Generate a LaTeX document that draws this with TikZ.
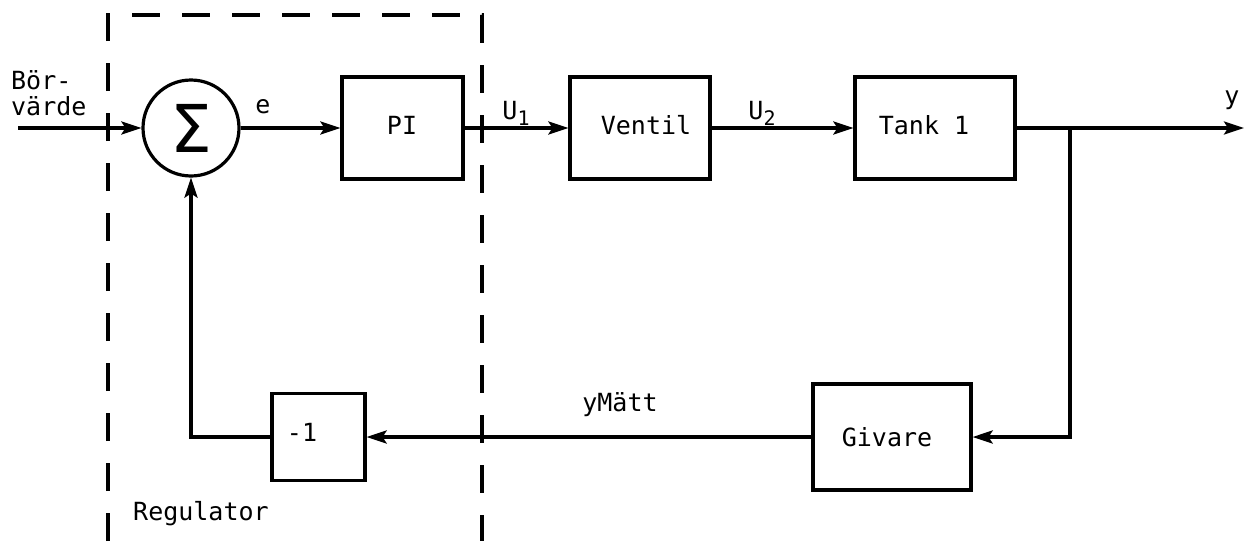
\documentclass[tikz,border=0pt]{standalone}
\usepackage{fontspec}
\setmonofont{DejaVu Sans Mono}
\newfontfamily\sigfont{DejaVu Sans}
\usetikzlibrary{arrows.meta}
\tikzset{
  blk/.style={draw, line width=3.2pt, minimum width=#1, inner sep=0pt},
  sig/.style={line width=3.2pt, -{Stealth[length=20pt,width=13pt,inset=4pt]}},
  lbl/.style={font=\ttfamily\fontsize{25}{30}\selectfont, inner sep=0pt},
  regbox/.style={line width=3.4pt, dash pattern=on 28pt off 22pt}
}
\begin{document}
\begin{tikzpicture}[x=1pt,y=-1pt]
\useasboundingbox (0,0) rectangle (1244,541);
% regulator dashed frame
\draw[regbox] (108,541) -- (108,15) -- (482,15) -- (482,541);
% blocks
\node[draw, circle, line width=3.2pt, minimum size=96pt, inner sep=0pt] (sum) at (191,128) {};
\node[inner sep=0pt] (sigma) at (191,128) {\sigfont\fontsize{66}{66}\selectfont Σ};
\node[blk=121pt, minimum height=102pt] (pi) at (402.5,128) {};
\node[lbl] (pit) at (402,125) {PI};
\node[blk=140pt, minimum height=102pt] (ventil) at (640,128) {};
\node[lbl] (ventilt) at (646,125) {Ventil};
\node[blk=160pt, minimum height=102pt] (tank) at (935,128) {};
\node[lbl] (tankt) at (924,125) {Tank 1};
\node[blk=158pt, minimum height=106pt] (givare) at (892,437) {};
\node[lbl] (givaret) at (887,437) {Givare};
\node[blk=93pt, minimum height=87pt] (minus) at (318.5,437) {};
\node[lbl] (minust) at (302,432) {-1};
% coordinates
\coordinate (in) at (18,128);
\coordinate (out) at (1244,128);
\coordinate (branch) at (1070,128);
\coordinate (bturn) at (1070,437);
\coordinate (fturn) at (191,437);
% connectors
\draw[sig] (in) -- (sum.west);
\draw[sig] (sum.east) -- (pi.west);
\draw[sig] (pi.east) -- (ventil.west);
\draw[sig] (ventil.east) -- (tank.west);
\draw[sig] (tank.east) -- (out);
\draw[sig] (branch) -- (bturn) -- (givare.east);
\draw[sig] (givare.west) -- (minus.east);
\draw[sig] (minus.west) -- (fturn) -- (sum.south);
% labels
\node[lbl, anchor=west] (bor) at (11,80) {Bör-};
\node[lbl, anchor=west] (varde) at (11,106) {värde};
\node[lbl] (e) at (263,107) {e};
\node[lbl] (u1) at (516,113) {U\raisebox{-0.45ex}{\fontsize{20}{24}\selectfont 1}};
\node[lbl] (u2) at (762,113) {U\raisebox{-0.45ex}{\fontsize{20}{24}\selectfont 2}};
\node[lbl] (y) at (1232,100) {y};
\node[lbl] (ymatt) at (620,405) {yMätt};
\node[lbl, anchor=west] (reg) at (133,514) {Regulator};
\end{tikzpicture}
\end{document}
